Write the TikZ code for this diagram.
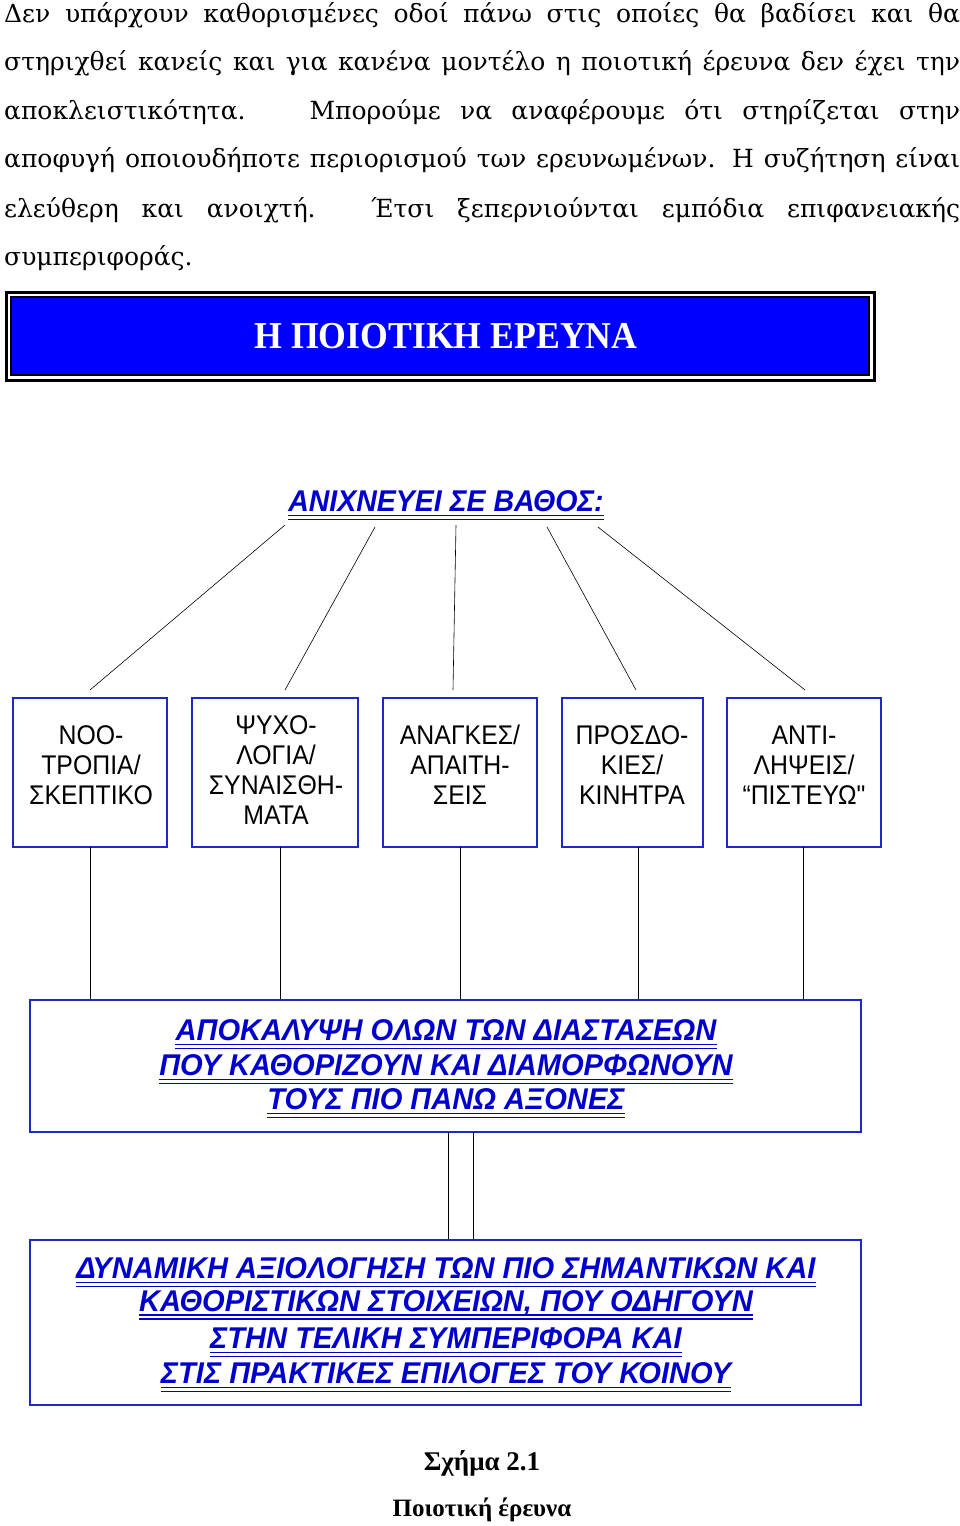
\documentclass[tikz,border=0pt]{standalone}
\usepackage{fontspec}
\setmainfont{DejaVu Serif}
\newfontfamily\arial{Liberation Sans}
\newfontfamily\tnr{Liberation Serif}
\definecolor{bl}{RGB}{0,0,205}
\definecolor{bd}{RGB}{30,40,200}
\begin{document}
\begin{tikzpicture}[x=1pt,y=-1pt,
  para/.style={anchor=west,inner sep=0pt,font=\fontsize{25}{28}\selectfont},
  bx/.style={draw=bd,line width=2pt},
  bt/.style={align=center,inner sep=0pt,font=\arial\fontsize{27}{30}\selectfont},
  ul/.style={inner sep=0pt,text=bl,font=\arial\bfseries\itshape\fontsize{30}{30}\selectfont},
  ln/.style={line width=0.6pt,black}]
\useasboundingbox (0,0) rectangle (960,1526);
% paragraph
\node[para] (p1) at (4,15) {\makebox[956pt][s]{Δεν υπάρχουν καθορισμένες οδοί πάνω στις οποίες θα βαδίσει και θα}};
\node[para] (p2) at (4,63) {\makebox[956pt][s]{στηριχθεί κανείς και για κανένα μοντέλο η ποιοτική έρευνα δεν έχει την}};
\node[para] (p3) at (4,112) {\makebox[956pt][s]{αποκλειστικότητα. \ Μπορούμε να αναφέρουμε ότι στηρίζεται στην}};
\node[para] (p4) at (4,160) {\makebox[956pt][s]{αποφυγή οποιουδήποτε περιορισμού των ερευνωμένων. Η συζήτηση είναι}};
\node[para] (p5) at (4,210) {\makebox[956pt][s]{ελεύθερη και ανοιχτή. Έτσι ξεπερνιούνται εμπόδια επιφανειακής}};
\node[para] (p6) at (4,258) {συμπεριφοράς.};
% title
\draw[line width=3pt,black] (6,292) rectangle (874,380);
\fill[blue] (11,297) rectangle (869,375);
\draw[line width=1.2pt] (11,297) rectangle (869,375);
\node[text=white,font=\tnr\bfseries\fontsize{38}{40}\selectfont] (title) at (446,336) {\scalebox{0.94}[1]{Η ΠΟΙΟΤΙΚΗ ΕΡΕΥΝΑ}};
% heading
\newcommand\ulx[3]{\node[ul] (#1) at #2 {#3};
  \draw[bl,line width=1.4pt] ([yshift=-4]#1.base west) -- ([yshift=-4]#1.base east);
  \draw[bl,line width=1.4pt] ([yshift=-8]#1.base west) -- ([yshift=-8]#1.base east);}
\ulx{head}{(446,501)}{\scalebox{0.95}[1]{ΑΝΙΧΝΕΥΕΙ ΣΕ ΒΑΘΟΣ:}}
\coordinate (h1) at (285,525); \coordinate (h2) at (375,527); \coordinate (h3) at (456,525);
\coordinate (h4) at (547,527); \coordinate (h5) at (598,527);
\coordinate (t1) at (90,690); \coordinate (t2) at (285,690); \coordinate (t3) at (453,690);
\coordinate (t4) at (636,690); \coordinate (t5) at (805,690);
\foreach \i in {1,...,5} \draw[ln] (h\i) -- (t\i);
% boxes
\newcommand\stk[1]{\scalebox{0.92}[1]{\begin{tabular}{@{}c@{}}#1\end{tabular}}}
\draw[bx] (13,698) rectangle (167,847); \draw[bx] (192,698) rectangle (358,847);
\draw[bx] (383,698) rectangle (537,847); \draw[bx] (562,698) rectangle (703,847);
\draw[bx] (727,698) rectangle (881,847);
\node[bt] (b1) at (91,768) {\stk{ΝΟΟ-\\ΤΡΟΠΙΑ/\\ΣΚΕΠΤΙΚΟ}};
\node[bt] (b2) at (276,773) {\stk{ΨΥΧΟ-\\ΛΟΓΙΑ/\\ΣΥΝΑΙΣΘΗ-\\ΜΑΤΑ}};
\node[bt] (b3) at (460,768) {\stk{ΑΝΑΓΚΕΣ/\\ΑΠΑΙΤΗ-\\ΣΕΙΣ}};
\node[bt] (b4) at (632,768) {\stk{ΠΡΟΣΔΟ-\\ΚΙΕΣ/\\ΚΙΝΗΤΡΑ}};
\node[bt] (b5) at (804,768) {\stk{ΑΝΤΙ-\\ΛΗΨΕΙΣ/\\“ΠΙΣΤΕΥΩ"}};
\foreach \x in {90,280,460,638,803} \draw[ln] (\x,847) -- (\x,1000);
% box A
\draw[bx] (30,1000) rectangle (861,1132);
\ulx{a1}{(446,1030)}{\scalebox{0.97}[1]{ΑΠΟΚΑΛΥΨΗ ΟΛΩΝ ΤΩΝ ΔΙΑΣΤΑΣΕΩΝ}}
\ulx{a2}{(446,1065)}{\scalebox{0.97}[1]{ΠΟΥ ΚΑΘΟΡΙΖΟΥΝ ΚΑΙ ΔΙΑΜΟΡΦΩΝΟΥΝ}}
\ulx{a3}{(446,1099)}{\scalebox{0.97}[1]{ΤΟΥΣ ΠΙΟ ΠΑΝΩ ΑΞΟΝΕΣ}}
\draw[ln] (448,1132) -- (448,1240); \draw[ln] (473,1132) -- (473,1240);
% box B
\draw[bx] (30,1240) rectangle (861,1405);
\ulx{c1}{(446,1268)}{\scalebox{0.97}[1]{ΔΥΝΑΜΙΚΗ ΑΞΙΟΛΟΓΗΣΗ ΤΩΝ ΠΙΟ ΣΗΜΑΝΤΙΚΩΝ ΚΑΙ}}
\ulx{c2}{(446,1303)}{\scalebox{0.97}[1]{ΚΑΘΟΡΙΣΤΙΚΩΝ ΣΤΟΙΧΕΙΩΝ, ΠΟΥ ΟΔΗΓΟΥΝ}}
\ulx{c3}{(446,1338)}{\scalebox{0.97}[1]{ΣΤΗΝ ΤΕΛΙΚΗ ΣΥΜΠΕΡΙΦΟΡΑ ΚΑΙ}}
\ulx{c4}{(446,1373)}{\scalebox{0.97}[1]{ΣΤΙΣ ΠΡΑΚΤΙΚΕΣ ΕΠΙΛΟΓΕΣ ΤΟΥ ΚΟΙΝΟΥ}}
% caption
\node[font=\tnr\bfseries\fontsize{27}{29}\selectfont] (cap1) at (482,1463) {Σχήμα 2.1};
\node[font=\tnr\bfseries\fontsize{25}{27}\selectfont] (cap2) at (482,1510) {Ποιοτική έρευνα};
\end{tikzpicture}
\end{document}
